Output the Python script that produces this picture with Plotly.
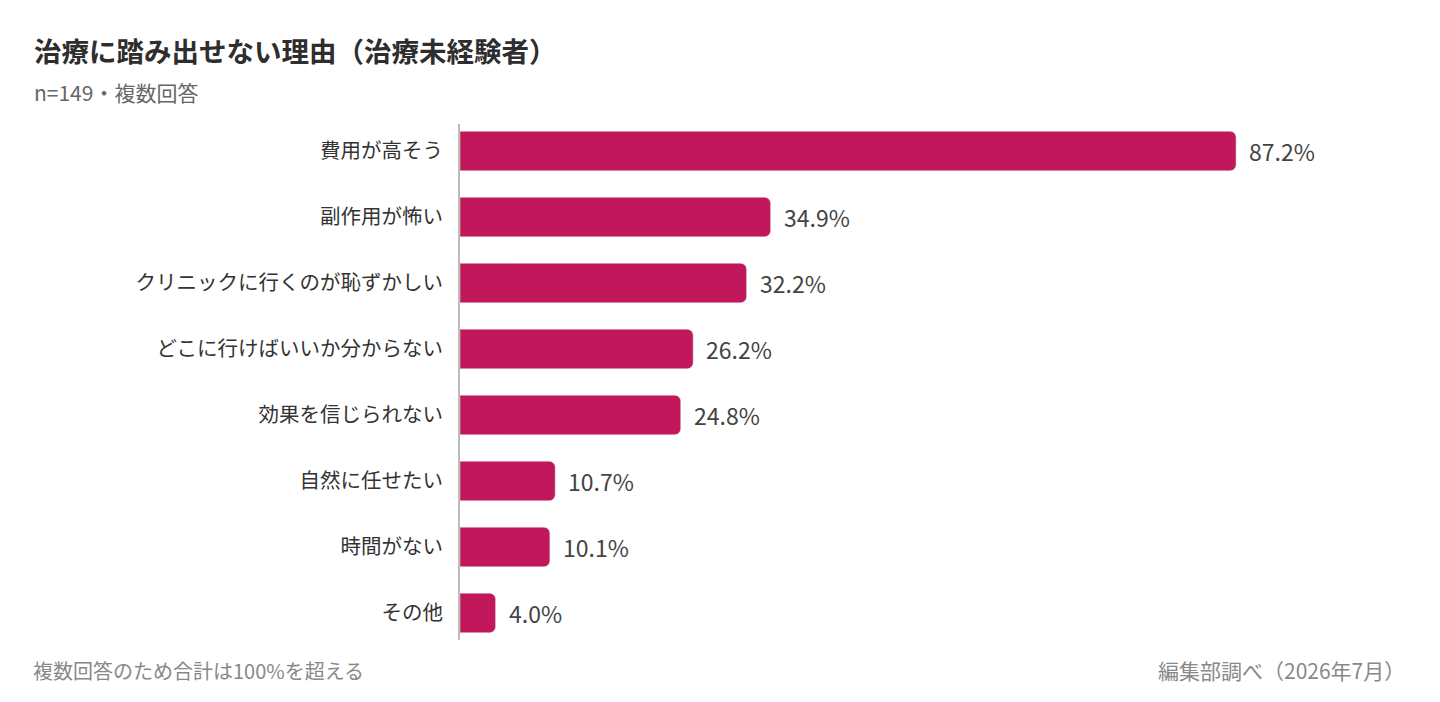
import plotly.graph_objects as go

reasons = [
    "費用が高そう",
    "副作用が怖い",
    "クリニックに行くのが恥ずかしい",
    "どこに行けばいいか分からない",
    "効果を信じられない",
    "自然に任せたい",
    "時間がない",
    "その他",
]
shares = [87.2, 34.9, 32.2, 26.2, 24.8, 10.7, 10.1, 4.0]

FONT = "Noto Sans CJK JP"
BAR = "#C0185B"

# page body has an 8px margin, so the figure is sized/offset to compensate
W, H = 1432, 694
L, R, T, B = 452, 90, 116, 62
PW, PH = W - L - R, H - T - B

fig = go.Figure()
fig.add_trace(go.Bar(
    x=shares,
    y=reasons,
    orientation="h",
    marker=dict(color=BAR, cornerradius=6),
    width=0.6,
    hoverinfo="skip",
))

for r, s in zip(reasons, shares):
    fig.add_annotation(
        x=s, y=r, text=f"{s:.1f}%", showarrow=False,
        xanchor="left", xshift=11,
        font=dict(family=FONT, size=23, color="#444444"),
    )

fig.update_layout(
    width=W, height=H,
    margin=dict(l=L, r=R, t=T, b=B, autoexpand=False),
    plot_bgcolor="white", paper_bgcolor="white",
    showlegend=False,
    font=dict(family=FONT),
    xaxis=dict(range=[0, 100], visible=False, fixedrange=True),
    yaxis=dict(
        categoryorder="array", categoryarray=reasons,
        range=[7.41, -0.41],
        showline=True, linecolor="#BDBDB5", linewidth=2,
        ticks="", ticklabelstandoff=11,
        tickfont=dict(family=FONT, size=20.5, color="#333333"),
        showgrid=False, zeroline=False,
    ),
)


def px_x(x):
    return (x - 8 - L) / PW


def px_y(y):
    return 1 - (y - 8 - T) / PH


fig.add_annotation(
    xref="paper", yref="paper", x=px_x(32), y=px_y(50),
    text="<b>治療に踏み出せない理由（治療未経験者）</b>", showarrow=False,
    xanchor="left", yanchor="middle",
    font=dict(family=FONT, size=27.5, color="#2E2E2E"),
)
fig.add_annotation(
    xref="paper", yref="paper", x=px_x(32), y=px_y(92),
    text="n=149・複数回答", showarrow=False,
    xanchor="left", yanchor="middle",
    font=dict(family=FONT, size=21, color="#666666"),
)
fig.add_annotation(
    xref="paper", yref="paper", x=px_x(31), y=px_y(670),
    text="複数回答のため合計は100%を超える", showarrow=False,
    xanchor="left", yanchor="middle",
    font=dict(family=FONT, size=20, color="#888888"),
)
fig.add_annotation(
    xref="paper", yref="paper", x=px_x(1156), y=px_y(670),
    text="編集部調べ（2026年7月）", showarrow=False,
    xanchor="left", yanchor="middle",
    font=dict(family=FONT, size=21, color="#888888"),
)

fig.write_html("out.html")
